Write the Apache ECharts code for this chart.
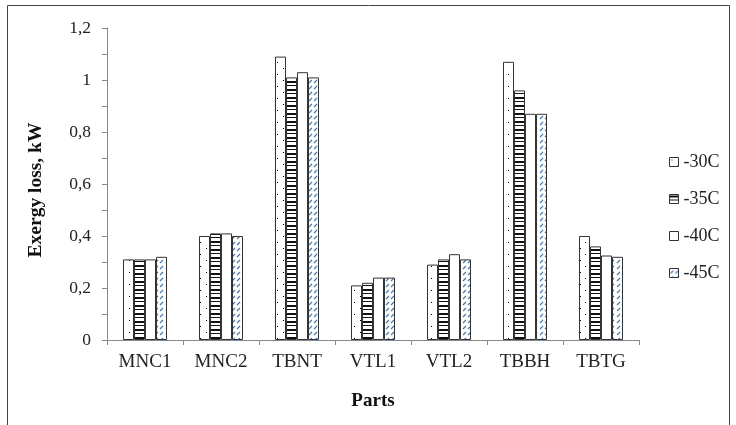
<!DOCTYPE html>
<html>
<head>
<meta charset="utf-8">
<script src="https://cdn.jsdelivr.net/npm/echarts@6/dist/echarts.min.js"></script>
<style>
  html, body { margin: 0; padding: 0; background: #fff; }
  #chart { width: 736px; height: 425px; }
</style>
</head>
<body>
<div id="chart"></div>
<script>
const parts = ['MNC1', 'MNC2', 'TBNT', 'VTL1', 'VTL2', 'TBBH', 'TBTG']
const seriesNames = ['-30C', '-35C', '-40C', '-45C']
const t30 = [0.31, 0.40, 1.09, 0.21, 0.29, 1.07, 0.40]
const t35 = [0.31, 0.41, 1.01, 0.22, 0.31, 0.96, 0.36]
const t40 = [0.31, 0.41, 1.03, 0.24, 0.33, 0.87, 0.325]
const t45 = [0.32, 0.40, 1.01, 0.24, 0.31, 0.87, 0.32]

const font = 'Liberation Serif, Times New Roman, serif'

// small canvas tiles used as bar fills
function tile(w, h, draw) {
  const c = document.createElement('canvas')
  c.width = w
  c.height = h
  const ctx = c.getContext('2d')
  ctx.fillStyle = '#fff'
  ctx.fillRect(0, 0, w, h)
  draw(ctx)
  return { image: c, repeat: 'repeat' }
}

const dots = tile(11, 12, ctx => {
  ctx.fillStyle = '#000'
  ctx.fillRect(2, 2, 1, 1)
  ctx.fillRect(8, 8, 1, 1)
})
const stripes = tile(4, 8, ctx => {
  ctx.fillStyle = '#111'
  ctx.fillRect(0, 1, 4, 2)
  ctx.fillRect(0, 5, 4, 1)
})
const plain = '#fff'
const dashes = tile(11, 12, ctx => {
  ctx.strokeStyle = '#3f78c8'
  ctx.lineWidth = 1.2
  ctx.beginPath()
  ctx.moveTo(1, 5); ctx.lineTo(4, 2)
  ctx.moveTo(6, 5); ctx.lineTo(9, 2)
  ctx.moveTo(1, 11); ctx.lineTo(4, 8)
  ctx.moveTo(6, 11); ctx.lineTo(9, 8)
  ctx.stroke()
})

const fills = [dots, stripes, plain, dashes]
const values = [t30, t35, t40, t45]

const chart = echarts.init(document.getElementById('chart'))
chart.setOption({
  animation: false,
  backgroundColor: '#fff',
  graphic: [{
    type: 'rect',
    shape: { x: 7.5, y: 5.5, width: 722, height: 430 },
    style: { fill: 'none', stroke: '#444', lineWidth: 1 },
    silent: true
  }, {
    type: 'text',
    x: 36,
    y: 190,
    rotation: Math.PI / 2,
    style: {
      text: 'Exergy loss, kW',
      fontFamily: font,
      fontSize: 19.5,
      fontWeight: 'bold',
      fill: '#111',
      align: 'center',
      verticalAlign: 'middle'
    },
    silent: true
  }],
  grid: {
    left: 107,
    right: 97,
    top: 28,
    bottom: 85
  },
  legend: {
    orient: 'vertical',
    left: 664,
    top: 148,
    itemWidth: 9,
    itemHeight: 9,
    itemGap: 19,
    icon: 'rect',
    textStyle: { fontFamily: font, fontSize: 18, color: '#222' },
    itemStyle: { borderColor: '#333', borderWidth: 1 },
    data: seriesNames
  },
  xAxis: {
    type: 'category',
    data: parts,
    name: 'Parts',
    nameLocation: 'middle',
    nameGap: 52,
    nameTextStyle: { fontFamily: font, fontSize: 19, fontWeight: 'bold', color: '#111' },
    axisLine: { lineStyle: { color: '#888', width: 1 } },
    axisTick: { show: true, length: 5, lineStyle: { color: '#888' } },
    axisLabel: { fontFamily: font, fontSize: 19, color: '#222', margin: 13 }
  },
  yAxis: {
    type: 'value',
    min: 0,
    max: 1.2,
    interval: 0.2,
    axisLine: { show: true, lineStyle: { color: '#888', width: 1 } },
    axisTick: { show: true, length: 5, lineStyle: { color: '#888' } },
    minorTick: { show: true, splitNumber: 2, length: 5, lineStyle: { color: '#888' } },
    splitLine: { show: false },
    axisLabel: {
      fontFamily: font,
      fontSize: 17.5,
      color: '#222',
      margin: 16,
      formatter: v => String(Math.round(v * 10) / 10).replace('.', ',')
    }
  },
  series: seriesNames.map((name, i) => ({
    name,
    type: 'bar',
    data: values[i],
    barWidth: 11,
    barGap: '0%',
    itemStyle: { color: fills[i], borderColor: '#333', borderWidth: 1 }
  }))
})
</script>
</body>
</html>
